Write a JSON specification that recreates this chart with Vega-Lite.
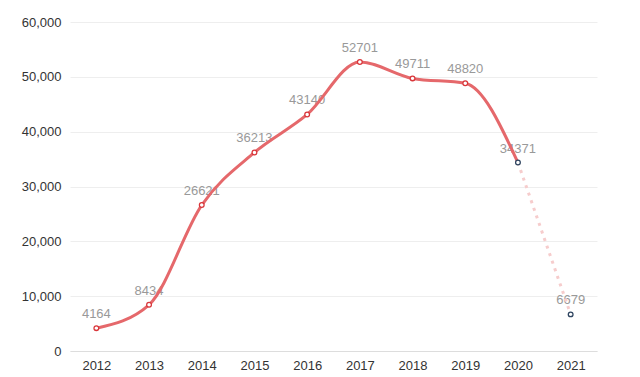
{
  "$schema": "https://vega.github.io/schema/vega-lite/v6.json",
  "width": 527,
  "height": 329,
  "autosize": "none",
  "padding": {"left": 70, "top": 22, "right": 43, "bottom": 26},
  "background": "white",
  "config": {
    "view": {"stroke": null},
    "font": "Liberation Sans"
  },
  "data": {
    "values": [
      {"year": "2012", "value": 4164, "kind": "A"},
      {"year": "2013", "value": 8434, "kind": "A"},
      {"year": "2014", "value": 26621, "kind": "A"},
      {"year": "2015", "value": 36213, "kind": "A"},
      {"year": "2016", "value": 43140, "kind": "A"},
      {"year": "2017", "value": 52701, "kind": "A"},
      {"year": "2018", "value": 49711, "kind": "A"},
      {"year": "2019", "value": 48820, "kind": "A"},
      {"year": "2020", "value": 34371, "kind": "B"},
      {"year": "2021", "value": 6679, "kind": "B"}
    ]
  },
  "encoding": {
    "x": {
      "field": "year",
      "type": "ordinal",
      "title": null,
      "axis": {
        "labelAngle": 0,
        "ticks": false,
        "domainColor": "#dddddd",
        "labelColor": "#333333",
        "labelFontSize": 13,
        "labelPadding": 8
      }
    },
    "y": {
      "field": "value",
      "type": "quantitative",
      "title": null,
      "scale": {"domain": [0, 60000]},
      "axis": {
        "format": ",d",
        "tickCount": 6,
        "domain": false,
        "ticks": false,
        "gridColor": "#eeeeee",
        "labelColor": "#333333",
        "labelFontSize": 13,
        "labelPadding": 9
      }
    }
  },
  "layer": [
    {
      "mark": {"type": "text", "dy": -10, "baseline": "alphabetic", "fontSize": 13, "color": "#999999"},
      "encoding": {"text": {"field": "value", "type": "quantitative", "format": "d"}}
    },
    {
      "transform": [{"filter": "datum.year >= '2020'"}],
      "mark": {"type": "line", "color": "#f6cccc", "strokeWidth": 3, "strokeDash": [3, 5], "interpolate": "monotone"}
    },
    {
      "transform": [{"filter": "datum.year <= '2020'"}],
      "mark": {"type": "line", "color": "#e5686b", "strokeWidth": 3, "interpolate": "monotone"}
    },
    {
      "mark": {"type": "point", "filled": false, "fill": "white", "fillOpacity": 1, "strokeWidth": 1.3, "size": 22, "opacity": 1},
      "encoding": {
        "stroke": {
          "field": "kind",
          "type": "nominal",
          "scale": {"domain": ["A", "B"], "range": ["#d9363a", "#2f4560"]},
          "legend": null
        }
      }
    }
  ]
}
